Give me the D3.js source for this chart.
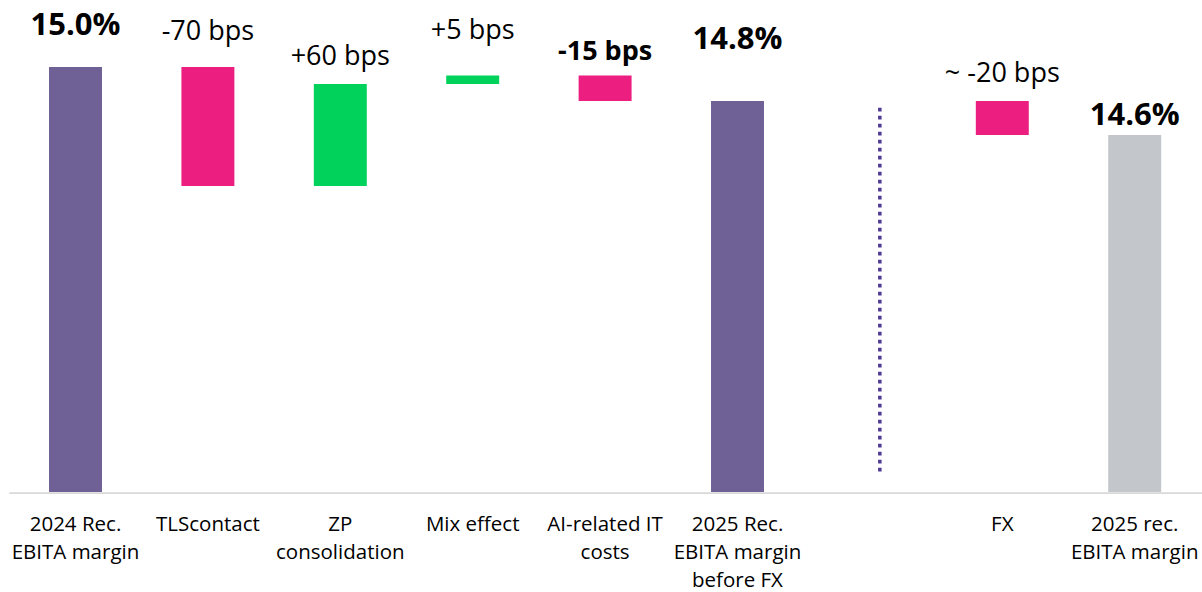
<!DOCTYPE html>
<html>
<head>
<meta charset="utf-8">
<script src="https://cdn.jsdelivr.net/npm/d3@7"></script>
<style>
  html, body { margin: 0; padding: 0; background: #ffffff; }
  svg { display: block; font-family: "Open Sans", "Noto Sans", sans-serif; }
</style>
</head>
<body>
<svg id="chart" width="1202" height="592"></svg>
<script>
// ---- data ----------------------------------------------------------------
const categories = [
  ["2024 Rec.", "EBITA margin"],
  ["TLScontact"],
  ["ZP", "consolidation"],
  ["Mix effect"],
  ["AI-related IT", "costs"],
  ["2025 Rec.", "EBITA margin", "before FX"],
  [],
  ["FX"],
  ["2025 rec.", "EBITA margin"]
];
// "total" bars stand on the axis, "delta" bars float from the running level
const stepKinds = ["total", "delta", "delta", "delta", "delta", "total", "gap", "delta", "total"];
const stepValues = [15.0, -0.70, 0.60, 0.05, -0.15, 14.8, null, -0.20, 14.6]; // % / percentage points
const valueLabels = ["15.0%", "-70 bps", "+60 bps", "+5 bps", "-15 bps", "14.8%", "", "~ -20 bps", "14.6%"];
const axisFloor = 12.5; // value where the bars start

// ---- styles & layout -----------------------------------------------------
const colours = { total: "#6f6196", final: "#c3c7cb", up: "#00d25c", down: "#ec1f80", divider: "#4f3a96", axis: "#d9d9d9" };
const boldLabels = [true, false, false, false, true, true, false, false, true];
const labelGap = [32, 27, 19, 37, 16, 52, 0, 19, 10]; // label baseline distance above bar top

const svg = d3.select("#chart");
const baseY = 492;

const x = d3.scaleBand()
  .domain(d3.range(categories.length))
  .range([9.3, 1200.9])
  .paddingInner(0.6)
  .paddingOuter(0.3);

const y = d3.scaleLinear().domain([axisFloor, 15.0]).range([baseY, 67]);

// running waterfall levels
let level = axisFloor;
const steps = stepKinds.map((kind, i) => {
  const v = stepValues[i];
  if (kind === "total") {
    level = v;
    return { i, kind, lo: axisFloor, hi: v, top: v, fill: i === categories.length - 1 ? colours.final : colours.total };
  }
  if (kind === "delta") {
    const start = level, end = level + v;
    level = end;
    return { i, kind, lo: Math.min(start, end), hi: Math.max(start, end), top: Math.max(start, end), fill: v >= 0 ? colours.up : colours.down };
  }
  return { i, kind };
});

const bars = steps.filter(d => d.kind !== "gap");

svg.append("g").selectAll("rect")
  .data(bars)
  .join("rect")
  .attr("x", d => x(d.i))
  .attr("width", x.bandwidth())
  .attr("y", d => y(d.hi))
  .attr("height", d => y(d.lo) - y(d.hi))
  .attr("fill", d => d.fill);

// horizontal axis line
svg.append("line")
  .attr("x1", x.range()[0]).attr("x2", 1202)
  .attr("y1", baseY + 1.2).attr("y2", baseY + 1.2)
  .attr("stroke", colours.axis)
  .attr("stroke-width", 1.8);

// dotted divider in the empty slot
const gapIndex = stepKinds.indexOf("gap");
const divX = x(gapIndex) + x.bandwidth() / 2 + x.step() * 0.075;
svg.append("line")
  .attr("x1", divX).attr("x2", divX)
  .attr("y1", y(14.76)).attr("y2", y(12.61))
  .attr("stroke", colours.divider)
  .attr("stroke-width", 3.5)
  .attr("stroke-dasharray", "3.6 4.4");

// value labels
svg.append("g").selectAll("text")
  .data(bars)
  .join("text")
  .attr("x", d => x(d.i) + x.bandwidth() / 2)
  .attr("y", d => y(d.top) - labelGap[d.i])
  .attr("text-anchor", "middle")
  .attr("font-weight", d => boldLabels[d.i] ? 700 : 400)
  .attr("font-size", d => d.kind === "total" ? 31 : 27)
  .attr("fill", "#000")
  .text(d => valueLabels[d.i]);

// category labels
const catG = svg.append("g").selectAll("text")
  .data(categories.map((lines, i) => ({ lines, i })))
  .join("text")
  .attr("text-anchor", "middle")
  .attr("font-size", 20.5)
  .attr("fill", "#000");

catG.selectAll("tspan")
  .data(d => d.lines.map(line => ({ line, i: d.i })))
  .join("tspan")
  .attr("x", d => x(d.i) + x.bandwidth() / 2)
  .attr("y", (d, j) => 531 + j * 28)
  .text(d => d.line);
</script>
</body>
</html>
